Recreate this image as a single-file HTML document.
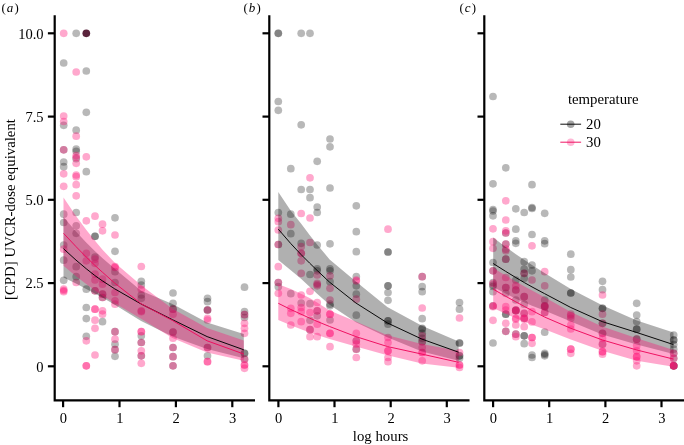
<!DOCTYPE html>
<html><head><meta charset="utf-8"><title>figure</title>
<style>
html,body{margin:0;padding:0;background:#fff;}
svg{display:block;}
text{font-family:"Liberation Serif",serif;fill:#000;}
.t{font-size:14.5px;}
.h{font-size:14.8px;}
.ax{stroke:#000;stroke-width:2.2;fill:none;stroke-linecap:butt;}
.g{fill:#000000;fill-opacity:0.28;}
.p{fill:#ff1478;fill-opacity:0.37;}
.z{fill:#5a233c;}
.rg{fill:#000;fill-opacity:0.31;}
</style></head><body>
<svg width="684" height="445" viewBox="0 0 684 445">
<rect width="684" height="445" fill="#fff"/>

<g id="panel-a">
<circle class="g" cx="63.7" cy="63.0" r="3.85"/>
<circle class="g" cx="63.7" cy="125.3" r="3.85"/>
<circle class="g" cx="63.7" cy="149.8" r="3.85"/>
<circle class="g" cx="63.7" cy="162.0" r="3.85"/>
<circle class="g" cx="63.7" cy="166.7" r="3.85"/>
<circle class="g" cx="63.7" cy="214.2" r="3.85"/>
<circle class="g" cx="63.7" cy="222.5" r="3.85"/>
<circle class="g" cx="63.7" cy="245.0" r="3.85"/>
<circle class="g" cx="63.7" cy="260.2" r="3.85"/>
<circle class="g" cx="63.7" cy="280.3" r="3.85"/>
<circle class="g" cx="76.2" cy="33.3" r="3.85"/>
<circle class="g" cx="76.2" cy="130.2" r="3.85"/>
<circle class="g" cx="76.2" cy="149.2" r="3.85"/>
<circle class="g" cx="76.2" cy="151.3" r="3.85"/>
<circle class="g" cx="76.2" cy="158.7" r="3.85"/>
<circle class="g" cx="76.2" cy="212.5" r="3.85"/>
<circle class="g" cx="76.2" cy="225.8" r="3.85"/>
<circle class="g" cx="76.2" cy="233.3" r="3.85"/>
<circle class="g" cx="76.2" cy="266.7" r="3.85"/>
<circle class="g" cx="76.2" cy="276.7" r="3.85"/>
<circle class="g" cx="86.3" cy="71.0" r="3.85"/>
<circle class="g" cx="86.3" cy="112.3" r="3.85"/>
<circle class="g" cx="86.3" cy="171.7" r="3.85"/>
<circle class="g" cx="86.3" cy="289.2" r="3.85"/>
<circle class="g" cx="86.3" cy="307.5" r="3.85"/>
<circle class="g" cx="86.3" cy="318.6" r="3.85"/>
<circle class="g" cx="86.3" cy="336.3" r="3.85"/>
<circle class="g" cx="95.0" cy="236.3" r="3.85"/>
<circle class="g" cx="95.0" cy="236.3" r="3.85"/>
<circle class="g" cx="95.0" cy="257.0" r="3.85"/>
<circle class="g" cx="95.0" cy="290.8" r="3.85"/>
<circle class="g" cx="102.5" cy="294.2" r="3.85"/>
<circle class="g" cx="102.5" cy="297.5" r="3.85"/>
<circle class="g" cx="102.5" cy="321.7" r="3.85"/>
<circle class="g" cx="115.0" cy="217.8" r="3.85"/>
<circle class="g" cx="115.0" cy="251.3" r="3.85"/>
<circle class="g" cx="115.0" cy="271.7" r="3.85"/>
<circle class="g" cx="115.0" cy="282.5" r="3.85"/>
<circle class="g" cx="115.0" cy="331.7" r="3.85"/>
<circle class="g" cx="115.0" cy="344.2" r="3.85"/>
<circle class="g" cx="115.0" cy="349.7" r="3.85"/>
<circle class="g" cx="115.0" cy="356.3" r="3.85"/>
<circle class="g" cx="141.3" cy="281.3" r="3.85"/>
<circle class="g" cx="141.3" cy="285.0" r="3.85"/>
<circle class="g" cx="141.3" cy="295.0" r="3.85"/>
<circle class="g" cx="141.3" cy="298.3" r="3.85"/>
<circle class="g" cx="141.3" cy="335.8" r="3.85"/>
<circle class="g" cx="141.3" cy="342.5" r="3.85"/>
<circle class="g" cx="141.3" cy="355.8" r="3.85"/>
<circle class="g" cx="173.0" cy="293.0" r="3.85"/>
<circle class="g" cx="173.0" cy="303.3" r="3.85"/>
<circle class="g" cx="173.0" cy="309.2" r="3.85"/>
<circle class="g" cx="173.0" cy="332.0" r="3.85"/>
<circle class="g" cx="173.0" cy="347.5" r="3.85"/>
<circle class="g" cx="173.0" cy="356.7" r="3.85"/>
<circle class="g" cx="173.0" cy="365.8" r="3.85"/>
<circle class="g" cx="207.5" cy="298.3" r="3.85"/>
<circle class="g" cx="207.5" cy="301.7" r="3.85"/>
<circle class="g" cx="207.5" cy="310.0" r="3.85"/>
<circle class="g" cx="207.5" cy="310.0" r="3.85"/>
<circle class="g" cx="207.5" cy="347.5" r="3.85"/>
<circle class="g" cx="207.5" cy="355.8" r="3.85"/>
<circle class="g" cx="244.5" cy="287.2" r="3.85"/>
<circle class="g" cx="244.5" cy="311.7" r="3.85"/>
<circle class="g" cx="244.5" cy="314.7" r="3.85"/>
<circle class="g" cx="244.5" cy="317.5" r="3.85"/>
<circle class="g" cx="244.5" cy="353.3" r="3.85"/>
<circle class="g" cx="244.5" cy="353.3" r="3.85"/>
<circle class="g" cx="244.5" cy="359.2" r="3.85"/>
<circle class="p" cx="63.7" cy="33.3" r="3.85"/>
<circle class="p" cx="63.7" cy="116.0" r="3.85"/>
<circle class="p" cx="63.7" cy="121.5" r="3.85"/>
<circle class="p" cx="63.7" cy="149.8" r="3.85"/>
<circle class="p" cx="63.7" cy="173.8" r="3.85"/>
<circle class="p" cx="63.7" cy="186.3" r="3.85"/>
<circle class="p" cx="63.7" cy="249.2" r="3.85"/>
<circle class="p" cx="63.7" cy="289.2" r="3.85"/>
<circle class="p" cx="63.7" cy="291.7" r="3.85"/>
<circle class="p" cx="63.7" cy="290.5" r="3.85"/>
<circle class="p" cx="76.2" cy="72.0" r="3.85"/>
<circle class="p" cx="76.2" cy="136.2" r="3.85"/>
<circle class="p" cx="76.2" cy="155.5" r="3.85"/>
<circle class="p" cx="76.2" cy="157.5" r="3.85"/>
<circle class="p" cx="76.2" cy="163.3" r="3.85"/>
<circle class="p" cx="76.2" cy="175.0" r="3.85"/>
<circle class="p" cx="76.2" cy="176.7" r="3.85"/>
<circle class="p" cx="76.2" cy="184.7" r="3.85"/>
<circle class="p" cx="76.2" cy="195.8" r="3.85"/>
<circle class="p" cx="76.2" cy="282.5" r="3.85"/>
<circle class="p" cx="86.3" cy="156.8" r="3.85"/>
<circle class="p" cx="86.3" cy="220.8" r="3.85"/>
<circle class="p" cx="86.3" cy="253.3" r="3.85"/>
<circle class="p" cx="86.3" cy="260.8" r="3.85"/>
<circle class="p" cx="86.3" cy="340.8" r="3.85"/>
<circle class="p" cx="86.3" cy="365.8" r="3.85"/>
<circle class="p" cx="86.3" cy="365.8" r="3.85"/>
<circle class="p" cx="95.0" cy="216.2" r="3.85"/>
<circle class="p" cx="95.0" cy="259.2" r="3.85"/>
<circle class="p" cx="95.0" cy="263.3" r="3.85"/>
<circle class="p" cx="95.0" cy="274.2" r="3.85"/>
<circle class="p" cx="95.0" cy="280.0" r="3.85"/>
<circle class="p" cx="95.0" cy="290.8" r="3.85"/>
<circle class="p" cx="95.0" cy="309.2" r="3.85"/>
<circle class="p" cx="95.0" cy="309.2" r="3.85"/>
<circle class="p" cx="95.0" cy="320.2" r="3.85"/>
<circle class="p" cx="95.0" cy="328.3" r="3.85"/>
<circle class="p" cx="95.0" cy="355.0" r="3.85"/>
<circle class="p" cx="102.5" cy="224.2" r="3.85"/>
<circle class="p" cx="102.5" cy="230.8" r="3.85"/>
<circle class="p" cx="102.5" cy="279.2" r="3.85"/>
<circle class="p" cx="102.5" cy="284.2" r="3.85"/>
<circle class="p" cx="102.5" cy="294.2" r="3.85"/>
<circle class="p" cx="102.5" cy="297.5" r="3.85"/>
<circle class="p" cx="102.5" cy="310.8" r="3.85"/>
<circle class="p" cx="102.5" cy="314.2" r="3.85"/>
<circle class="p" cx="115.0" cy="235.0" r="3.85"/>
<circle class="p" cx="115.0" cy="266.7" r="3.85"/>
<circle class="p" cx="115.0" cy="267.5" r="3.85"/>
<circle class="p" cx="115.0" cy="292.5" r="3.85"/>
<circle class="p" cx="115.0" cy="300.8" r="3.85"/>
<circle class="p" cx="115.0" cy="304.2" r="3.85"/>
<circle class="p" cx="115.0" cy="331.7" r="3.85"/>
<circle class="p" cx="115.0" cy="339.2" r="3.85"/>
<circle class="p" cx="115.0" cy="349.7" r="3.85"/>
<circle class="p" cx="141.3" cy="266.5" r="3.85"/>
<circle class="p" cx="141.3" cy="289.2" r="3.85"/>
<circle class="p" cx="141.3" cy="310.8" r="3.85"/>
<circle class="p" cx="141.3" cy="311.7" r="3.85"/>
<circle class="p" cx="141.3" cy="331.7" r="3.85"/>
<circle class="p" cx="141.3" cy="331.7" r="3.85"/>
<circle class="p" cx="141.3" cy="342.5" r="3.85"/>
<circle class="p" cx="141.3" cy="350.8" r="3.85"/>
<circle class="p" cx="141.3" cy="355.8" r="3.85"/>
<circle class="p" cx="141.3" cy="363.3" r="3.85"/>
<circle class="p" cx="173.0" cy="309.2" r="3.85"/>
<circle class="p" cx="173.0" cy="314.2" r="3.85"/>
<circle class="p" cx="173.0" cy="332.0" r="3.85"/>
<circle class="p" cx="173.0" cy="338.2" r="3.85"/>
<circle class="p" cx="173.0" cy="347.5" r="3.85"/>
<circle class="p" cx="173.0" cy="356.7" r="3.85"/>
<circle class="p" cx="173.0" cy="365.8" r="3.85"/>
<circle class="p" cx="207.5" cy="310.0" r="3.85"/>
<circle class="p" cx="207.5" cy="318.3" r="3.85"/>
<circle class="p" cx="207.5" cy="320.0" r="3.85"/>
<circle class="p" cx="207.5" cy="347.5" r="3.85"/>
<circle class="p" cx="207.5" cy="361.7" r="3.85"/>
<circle class="p" cx="207.5" cy="361.7" r="3.85"/>
<circle class="p" cx="244.5" cy="314.7" r="3.85"/>
<circle class="p" cx="244.5" cy="323.3" r="3.85"/>
<circle class="p" cx="244.5" cy="328.3" r="3.85"/>
<circle class="p" cx="244.5" cy="333.3" r="3.85"/>
<circle class="p" cx="244.5" cy="359.2" r="3.85"/>
<circle class="p" cx="244.5" cy="365.0" r="3.85"/>
<circle class="p" cx="244.5" cy="365.0" r="3.85"/>
<circle class="p" cx="244.5" cy="368.3" r="3.85"/>
<circle class="z" cx="86.3" cy="33.3" r="3.85"/>
<path class="rg" d="M63.5 217.0 L76.0 231.5 L86.2 242.5 L94.8 251.0 L102.3 257.9 L114.8 268.8 L141.1 290.7 L172.5 304.0 L207.1 322.4 L243.8 334.0 L243.8 358.2 L207.1 348.9 L172.5 336.5 L141.1 320.9 L114.8 304.7 L102.3 297.6 L94.8 293.5 L86.2 288.9 L76.0 283.6 L63.5 277.5Z"/>
<path class="p" d="M63.5 197.5 L76.0 215.9 L86.2 229.7 L94.8 240.6 L102.3 249.4 L114.8 262.8 L141.1 285.3 L172.5 308.7 L207.1 328.1 L243.8 340.6 L243.8 360.7 L207.1 352.4 L172.5 338.0 L141.1 318.7 L114.8 303.3 L102.3 295.5 L94.8 290.4 L86.2 284.1 L76.0 276.2 L63.5 265.8Z"/>
<path d="M63.5 248.7 L76.0 260.1 L86.2 268.7 L94.8 275.5 L102.3 280.8 L114.8 288.9 L141.1 304.0 L172.5 319.7 L207.1 336.6 L243.8 349.8" fill="none" stroke="#000" stroke-width="0.95"/>
<path d="M63.5 233.3 L76.0 246.6 L86.2 257.0 L94.8 265.3 L102.3 272.1 L114.8 283.2 L141.1 303.8 L172.5 320.5 L207.1 340.8 L243.8 354.0" fill="none" stroke="#ee0a5c" stroke-width="0.95"/>
<path class="ax" d="M54.7 15.2 V400.3 H255.0"/>
<path class="ax" d="M47.9 366.3 H54.7"/>
<path class="ax" d="M47.9 283.1 H54.7"/>
<path class="ax" d="M47.9 199.8 H54.7"/>
<path class="ax" d="M47.9 116.6 H54.7"/>
<path class="ax" d="M47.9 33.3 H54.7"/>
<path class="ax" d="M63.1 400 V407.2"/>
<text class="t" x="63.4" y="423.0" text-anchor="middle">0</text>
<path class="ax" d="M119.5 400 V407.2"/>
<text class="t" x="119.8" y="423.0" text-anchor="middle">1</text>
<path class="ax" d="M175.9 400 V407.2"/>
<text class="t" x="176.2" y="423.0" text-anchor="middle">2</text>
<path class="ax" d="M232.3 400 V407.2"/>
<text class="t" x="232.6" y="423.0" text-anchor="middle">3</text>
<text x="1.5" y="12.3" font-size="12.8"><tspan dy="-0.4">(</tspan><tspan font-style="italic" font-size="13.0" dx="1.1" dy="0.4">a</tspan><tspan dx="1.2" dy="-0.4">)</tspan></text>
</g>
<g id="panel-b">
<circle class="g" cx="278.3" cy="33.3" r="3.85"/>
<circle class="g" cx="278.3" cy="33.3" r="3.85"/>
<circle class="g" cx="278.3" cy="101.5" r="3.85"/>
<circle class="g" cx="278.3" cy="110.3" r="3.85"/>
<circle class="g" cx="278.3" cy="212.5" r="3.85"/>
<circle class="g" cx="278.3" cy="244.5" r="3.85"/>
<circle class="g" cx="278.3" cy="282.5" r="3.85"/>
<circle class="g" cx="278.3" cy="286.7" r="3.85"/>
<circle class="g" cx="290.8" cy="168.7" r="3.85"/>
<circle class="g" cx="290.8" cy="214.2" r="3.85"/>
<circle class="g" cx="290.8" cy="233.7" r="3.85"/>
<circle class="g" cx="290.8" cy="293.7" r="3.85"/>
<circle class="g" cx="301.2" cy="33.3" r="3.85"/>
<circle class="g" cx="301.2" cy="124.8" r="3.85"/>
<circle class="g" cx="301.2" cy="189.5" r="3.85"/>
<circle class="g" cx="301.2" cy="243.3" r="3.85"/>
<circle class="g" cx="301.2" cy="303.0" r="3.85"/>
<circle class="g" cx="310.0" cy="33.3" r="3.85"/>
<circle class="g" cx="310.0" cy="189.5" r="3.85"/>
<circle class="g" cx="310.0" cy="197.7" r="3.85"/>
<circle class="g" cx="310.0" cy="274.5" r="3.85"/>
<circle class="g" cx="310.0" cy="303.7" r="3.85"/>
<circle class="g" cx="310.0" cy="320.3" r="3.85"/>
<circle class="g" cx="310.0" cy="329.7" r="3.85"/>
<circle class="g" cx="317.2" cy="161.3" r="3.85"/>
<circle class="g" cx="317.2" cy="207.0" r="3.85"/>
<circle class="g" cx="317.2" cy="212.5" r="3.85"/>
<circle class="g" cx="317.2" cy="245.0" r="3.85"/>
<circle class="g" cx="317.2" cy="268.8" r="3.85"/>
<circle class="g" cx="317.2" cy="270.8" r="3.85"/>
<circle class="g" cx="317.2" cy="310.8" r="3.85"/>
<circle class="g" cx="317.2" cy="315.8" r="3.85"/>
<circle class="g" cx="330.0" cy="139.0" r="3.85"/>
<circle class="g" cx="330.0" cy="146.8" r="3.85"/>
<circle class="g" cx="330.0" cy="188.0" r="3.85"/>
<circle class="g" cx="330.0" cy="243.8" r="3.85"/>
<circle class="g" cx="330.0" cy="268.8" r="3.85"/>
<circle class="g" cx="330.0" cy="270.8" r="3.85"/>
<circle class="g" cx="330.0" cy="281.7" r="3.85"/>
<circle class="g" cx="330.0" cy="304.2" r="3.85"/>
<circle class="g" cx="330.0" cy="305.8" r="3.85"/>
<circle class="g" cx="330.0" cy="320.0" r="3.85"/>
<circle class="g" cx="356.3" cy="205.8" r="3.85"/>
<circle class="g" cx="356.3" cy="231.7" r="3.85"/>
<circle class="g" cx="356.3" cy="251.7" r="3.85"/>
<circle class="g" cx="356.3" cy="276.7" r="3.85"/>
<circle class="g" cx="356.3" cy="285.8" r="3.85"/>
<circle class="g" cx="356.3" cy="294.2" r="3.85"/>
<circle class="g" cx="356.3" cy="315.2" r="3.85"/>
<circle class="g" cx="356.3" cy="340.8" r="3.85"/>
<circle class="g" cx="356.3" cy="349.2" r="3.85"/>
<circle class="g" cx="388.0" cy="252.0" r="3.85"/>
<circle class="g" cx="388.0" cy="252.0" r="3.85"/>
<circle class="g" cx="388.0" cy="285.8" r="3.85"/>
<circle class="g" cx="388.0" cy="285.8" r="3.85"/>
<circle class="g" cx="388.0" cy="292.5" r="3.85"/>
<circle class="g" cx="388.0" cy="300.3" r="3.85"/>
<circle class="g" cx="388.0" cy="320.8" r="3.85"/>
<circle class="g" cx="388.0" cy="320.8" r="3.85"/>
<circle class="g" cx="388.0" cy="324.2" r="3.85"/>
<circle class="g" cx="422.2" cy="276.7" r="3.85"/>
<circle class="g" cx="422.2" cy="286.7" r="3.85"/>
<circle class="g" cx="422.2" cy="291.7" r="3.85"/>
<circle class="g" cx="422.2" cy="318.7" r="3.85"/>
<circle class="g" cx="422.2" cy="328.3" r="3.85"/>
<circle class="g" cx="422.2" cy="329.2" r="3.85"/>
<circle class="g" cx="422.2" cy="333.3" r="3.85"/>
<circle class="g" cx="422.2" cy="338.3" r="3.85"/>
<circle class="g" cx="422.2" cy="341.7" r="3.85"/>
<circle class="g" cx="459.5" cy="302.5" r="3.85"/>
<circle class="g" cx="459.5" cy="309.2" r="3.85"/>
<circle class="g" cx="459.5" cy="343.0" r="3.85"/>
<circle class="g" cx="459.5" cy="343.0" r="3.85"/>
<circle class="g" cx="459.5" cy="355.8" r="3.85"/>
<circle class="g" cx="459.5" cy="355.8" r="3.85"/>
<circle class="g" cx="459.5" cy="358.3" r="3.85"/>
<circle class="p" cx="278.3" cy="218.3" r="3.85"/>
<circle class="p" cx="278.3" cy="221.7" r="3.85"/>
<circle class="p" cx="278.3" cy="230.0" r="3.85"/>
<circle class="p" cx="278.3" cy="244.5" r="3.85"/>
<circle class="p" cx="278.3" cy="266.7" r="3.85"/>
<circle class="p" cx="278.3" cy="282.5" r="3.85"/>
<circle class="p" cx="278.3" cy="293.3" r="3.85"/>
<circle class="p" cx="290.8" cy="224.7" r="3.85"/>
<circle class="p" cx="290.8" cy="308.3" r="3.85"/>
<circle class="p" cx="290.8" cy="313.3" r="3.85"/>
<circle class="p" cx="290.8" cy="325.0" r="3.85"/>
<circle class="p" cx="301.2" cy="213.5" r="3.85"/>
<circle class="p" cx="301.2" cy="246.7" r="3.85"/>
<circle class="p" cx="301.2" cy="253.3" r="3.85"/>
<circle class="p" cx="301.2" cy="253.3" r="3.85"/>
<circle class="p" cx="301.2" cy="260.8" r="3.85"/>
<circle class="p" cx="301.2" cy="273.3" r="3.85"/>
<circle class="p" cx="301.2" cy="295.0" r="3.85"/>
<circle class="p" cx="301.2" cy="307.5" r="3.85"/>
<circle class="p" cx="301.2" cy="311.7" r="3.85"/>
<circle class="p" cx="301.2" cy="321.7" r="3.85"/>
<circle class="p" cx="310.0" cy="177.8" r="3.85"/>
<circle class="p" cx="310.0" cy="218.0" r="3.85"/>
<circle class="p" cx="310.0" cy="242.5" r="3.85"/>
<circle class="p" cx="310.0" cy="291.3" r="3.85"/>
<circle class="p" cx="310.0" cy="312.5" r="3.85"/>
<circle class="p" cx="310.0" cy="329.7" r="3.85"/>
<circle class="p" cx="310.0" cy="336.7" r="3.85"/>
<circle class="p" cx="317.2" cy="275.0" r="3.85"/>
<circle class="p" cx="317.2" cy="283.3" r="3.85"/>
<circle class="p" cx="317.2" cy="285.8" r="3.85"/>
<circle class="p" cx="317.2" cy="284.5" r="3.85"/>
<circle class="p" cx="317.2" cy="302.5" r="3.85"/>
<circle class="p" cx="317.2" cy="310.8" r="3.85"/>
<circle class="p" cx="317.2" cy="324.2" r="3.85"/>
<circle class="p" cx="317.2" cy="336.7" r="3.85"/>
<circle class="p" cx="330.0" cy="275.8" r="3.85"/>
<circle class="p" cx="330.0" cy="288.3" r="3.85"/>
<circle class="p" cx="330.0" cy="300.0" r="3.85"/>
<circle class="p" cx="330.0" cy="314.2" r="3.85"/>
<circle class="p" cx="330.0" cy="314.2" r="3.85"/>
<circle class="p" cx="330.0" cy="333.3" r="3.85"/>
<circle class="p" cx="330.0" cy="333.3" r="3.85"/>
<circle class="p" cx="330.0" cy="346.7" r="3.85"/>
<circle class="p" cx="356.3" cy="280.0" r="3.85"/>
<circle class="p" cx="356.3" cy="281.0" r="3.85"/>
<circle class="p" cx="356.3" cy="299.2" r="3.85"/>
<circle class="p" cx="356.3" cy="333.3" r="3.85"/>
<circle class="p" cx="356.3" cy="340.8" r="3.85"/>
<circle class="p" cx="356.3" cy="344.2" r="3.85"/>
<circle class="p" cx="356.3" cy="349.2" r="3.85"/>
<circle class="p" cx="356.3" cy="357.5" r="3.85"/>
<circle class="p" cx="388.0" cy="229.2" r="3.85"/>
<circle class="p" cx="388.0" cy="337.5" r="3.85"/>
<circle class="p" cx="388.0" cy="342.5" r="3.85"/>
<circle class="p" cx="388.0" cy="350.8" r="3.85"/>
<circle class="p" cx="388.0" cy="350.8" r="3.85"/>
<circle class="p" cx="388.0" cy="357.5" r="3.85"/>
<circle class="p" cx="388.0" cy="361.7" r="3.85"/>
<circle class="p" cx="422.2" cy="276.7" r="3.85"/>
<circle class="p" cx="422.2" cy="308.0" r="3.85"/>
<circle class="p" cx="422.2" cy="335.8" r="3.85"/>
<circle class="p" cx="422.2" cy="341.7" r="3.85"/>
<circle class="p" cx="422.2" cy="347.5" r="3.85"/>
<circle class="p" cx="422.2" cy="352.5" r="3.85"/>
<circle class="p" cx="422.2" cy="352.5" r="3.85"/>
<circle class="p" cx="422.2" cy="360.8" r="3.85"/>
<circle class="p" cx="459.5" cy="318.0" r="3.85"/>
<circle class="p" cx="459.5" cy="352.5" r="3.85"/>
<circle class="p" cx="459.5" cy="365.0" r="3.85"/>
<circle class="p" cx="459.5" cy="365.0" r="3.85"/>
<circle class="p" cx="459.5" cy="367.5" r="3.85"/>
<path class="rg" d="M278.3 192.0 L290.8 210.8 L301.0 223.6 L309.6 234.9 L317.1 244.5 L329.6 259.4 L355.9 281.4 L387.3 307.0 L421.9 325.7 L458.6 341.4 L458.6 360.7 L421.9 351.6 L387.3 337.2 L355.9 322.3 L329.6 304.7 L317.1 293.8 L309.6 286.7 L301.0 278.8 L290.8 270.2 L278.3 260.0Z"/>
<path class="p" d="M278.3 284.2 L290.8 289.0 L301.0 293.7 L309.6 298.1 L317.1 302.6 L329.6 310.6 L355.9 321.6 L387.3 335.3 L421.9 343.9 L458.6 350.7 L458.6 367.7 L421.9 363.5 L387.3 355.3 L355.9 346.6 L329.6 338.9 L317.1 334.9 L309.6 332.4 L301.0 329.2 L290.8 325.2 L278.3 320.0Z"/>
<path d="M278.3 229.2 L290.8 243.6 L301.0 254.5 L309.6 263.1 L317.1 270.4 L329.6 282.2 L355.9 303.0 L387.3 322.9 L421.9 339.1 L458.6 352.2" fill="none" stroke="#000" stroke-width="0.95"/>
<path d="M278.3 303.3 L290.8 309.5 L301.0 314.2 L309.6 318.1 L317.1 321.4 L329.6 326.5 L355.9 336.6 L387.3 346.5 L421.9 354.1 L458.6 362.3" fill="none" stroke="#ee0a5c" stroke-width="0.95"/>
<path class="ax" d="M269.3 15.2 V400.3 H469.5"/>
<path class="ax" d="M262.5 366.3 H269.3"/>
<path class="ax" d="M262.5 283.1 H269.3"/>
<path class="ax" d="M262.5 199.8 H269.3"/>
<path class="ax" d="M262.5 116.6 H269.3"/>
<path class="ax" d="M262.5 33.3 H269.3"/>
<path class="ax" d="M278.4 400 V407.2"/>
<text class="t" x="278.7" y="423.0" text-anchor="middle">0</text>
<path class="ax" d="M334.5 400 V407.2"/>
<text class="t" x="334.8" y="423.0" text-anchor="middle">1</text>
<path class="ax" d="M390.7 400 V407.2"/>
<text class="t" x="391.0" y="423.0" text-anchor="middle">2</text>
<path class="ax" d="M446.8 400 V407.2"/>
<text class="t" x="447.1" y="423.0" text-anchor="middle">3</text>
<text x="243.4" y="12.3" font-size="12.8"><tspan dy="-0.4">(</tspan><tspan font-style="italic" font-size="13.0" dx="1.1" dy="0.4">b</tspan><tspan dx="1.2" dy="-0.4">)</tspan></text>
</g>
<g id="panel-c">
<circle class="g" cx="493.0" cy="96.5" r="3.85"/>
<circle class="g" cx="493.0" cy="183.8" r="3.85"/>
<circle class="g" cx="493.0" cy="209.5" r="3.85"/>
<circle class="g" cx="493.0" cy="211.0" r="3.85"/>
<circle class="g" cx="493.0" cy="215.8" r="3.85"/>
<circle class="g" cx="493.0" cy="262.5" r="3.85"/>
<circle class="g" cx="493.0" cy="270.8" r="3.85"/>
<circle class="g" cx="493.0" cy="282.5" r="3.85"/>
<circle class="g" cx="493.0" cy="285.0" r="3.85"/>
<circle class="g" cx="493.0" cy="286.5" r="3.85"/>
<circle class="g" cx="493.0" cy="291.7" r="3.85"/>
<circle class="g" cx="493.0" cy="305.8" r="3.85"/>
<circle class="g" cx="493.0" cy="343.0" r="3.85"/>
<circle class="g" cx="505.8" cy="167.8" r="3.85"/>
<circle class="g" cx="505.8" cy="233.0" r="3.85"/>
<circle class="g" cx="505.8" cy="244.2" r="3.85"/>
<circle class="g" cx="505.8" cy="259.2" r="3.85"/>
<circle class="g" cx="505.8" cy="287.5" r="3.85"/>
<circle class="g" cx="505.8" cy="293.3" r="3.85"/>
<circle class="g" cx="505.8" cy="314.2" r="3.85"/>
<circle class="g" cx="505.8" cy="314.2" r="3.85"/>
<circle class="g" cx="505.8" cy="331.3" r="3.85"/>
<circle class="g" cx="515.8" cy="208.8" r="3.85"/>
<circle class="g" cx="515.8" cy="229.2" r="3.85"/>
<circle class="g" cx="515.8" cy="240.8" r="3.85"/>
<circle class="g" cx="515.8" cy="243.3" r="3.85"/>
<circle class="g" cx="515.8" cy="280.0" r="3.85"/>
<circle class="g" cx="515.8" cy="290.0" r="3.85"/>
<circle class="g" cx="515.8" cy="300.0" r="3.85"/>
<circle class="g" cx="515.8" cy="310.0" r="3.85"/>
<circle class="g" cx="515.8" cy="310.8" r="3.85"/>
<circle class="g" cx="515.8" cy="310.4" r="3.85"/>
<circle class="g" cx="515.8" cy="334.2" r="3.85"/>
<circle class="g" cx="524.2" cy="212.5" r="3.85"/>
<circle class="g" cx="524.2" cy="261.7" r="3.85"/>
<circle class="g" cx="524.2" cy="269.2" r="3.85"/>
<circle class="g" cx="524.2" cy="273.3" r="3.85"/>
<circle class="g" cx="524.2" cy="278.3" r="3.85"/>
<circle class="g" cx="524.2" cy="296.7" r="3.85"/>
<circle class="g" cx="524.2" cy="304.2" r="3.85"/>
<circle class="g" cx="524.2" cy="313.3" r="3.85"/>
<circle class="g" cx="524.2" cy="318.3" r="3.85"/>
<circle class="g" cx="524.2" cy="335.8" r="3.85"/>
<circle class="g" cx="524.2" cy="335.8" r="3.85"/>
<circle class="g" cx="524.2" cy="343.7" r="3.85"/>
<circle class="g" cx="532.0" cy="207.5" r="3.85"/>
<circle class="g" cx="532.0" cy="208.5" r="3.85"/>
<circle class="g" cx="532.0" cy="184.7" r="3.85"/>
<circle class="g" cx="532.0" cy="234.5" r="3.85"/>
<circle class="g" cx="532.0" cy="265.0" r="3.85"/>
<circle class="g" cx="532.0" cy="270.8" r="3.85"/>
<circle class="g" cx="532.0" cy="355.0" r="3.85"/>
<circle class="g" cx="532.0" cy="357.5" r="3.85"/>
<circle class="g" cx="544.7" cy="213.3" r="3.85"/>
<circle class="g" cx="544.7" cy="240.8" r="3.85"/>
<circle class="g" cx="544.7" cy="243.7" r="3.85"/>
<circle class="g" cx="544.7" cy="300.0" r="3.85"/>
<circle class="g" cx="544.7" cy="305.8" r="3.85"/>
<circle class="g" cx="544.7" cy="306.7" r="3.85"/>
<circle class="g" cx="544.7" cy="312.5" r="3.85"/>
<circle class="g" cx="544.7" cy="332.2" r="3.85"/>
<circle class="g" cx="544.7" cy="353.3" r="3.85"/>
<circle class="g" cx="544.7" cy="354.5" r="3.85"/>
<circle class="g" cx="544.7" cy="355.8" r="3.85"/>
<circle class="g" cx="570.8" cy="254.2" r="3.85"/>
<circle class="g" cx="570.8" cy="269.7" r="3.85"/>
<circle class="g" cx="570.8" cy="277.0" r="3.85"/>
<circle class="g" cx="570.8" cy="293.0" r="3.85"/>
<circle class="g" cx="570.8" cy="293.0" r="3.85"/>
<circle class="g" cx="602.5" cy="281.3" r="3.85"/>
<circle class="g" cx="602.5" cy="289.7" r="3.85"/>
<circle class="g" cx="602.5" cy="308.3" r="3.85"/>
<circle class="g" cx="602.5" cy="308.3" r="3.85"/>
<circle class="g" cx="602.5" cy="323.3" r="3.85"/>
<circle class="g" cx="602.5" cy="333.3" r="3.85"/>
<circle class="g" cx="602.5" cy="344.2" r="3.85"/>
<circle class="g" cx="636.7" cy="303.3" r="3.85"/>
<circle class="g" cx="636.7" cy="315.0" r="3.85"/>
<circle class="g" cx="636.7" cy="321.5" r="3.85"/>
<circle class="g" cx="636.7" cy="329.2" r="3.85"/>
<circle class="g" cx="636.7" cy="329.2" r="3.85"/>
<circle class="g" cx="636.7" cy="339.2" r="3.85"/>
<circle class="g" cx="673.7" cy="335.0" r="3.85"/>
<circle class="g" cx="673.7" cy="340.0" r="3.85"/>
<circle class="g" cx="673.7" cy="340.0" r="3.85"/>
<circle class="g" cx="673.7" cy="344.5" r="3.85"/>
<circle class="g" cx="673.7" cy="349.2" r="3.85"/>
<circle class="g" cx="673.7" cy="353.3" r="3.85"/>
<circle class="g" cx="673.7" cy="358.3" r="3.85"/>
<circle class="g" cx="673.7" cy="365.8" r="3.85"/>
<circle class="g" cx="673.7" cy="365.8" r="3.85"/>
<circle class="g" cx="673.7" cy="365.8" r="3.85"/>
<circle class="p" cx="493.0" cy="228.8" r="3.85"/>
<circle class="p" cx="493.0" cy="241.7" r="3.85"/>
<circle class="p" cx="493.0" cy="248.3" r="3.85"/>
<circle class="p" cx="493.0" cy="270.8" r="3.85"/>
<circle class="p" cx="493.0" cy="283.5" r="3.85"/>
<circle class="p" cx="493.0" cy="305.8" r="3.85"/>
<circle class="p" cx="493.0" cy="306.7" r="3.85"/>
<circle class="p" cx="493.0" cy="320.3" r="3.85"/>
<circle class="p" cx="505.8" cy="200.8" r="3.85"/>
<circle class="p" cx="505.8" cy="220.0" r="3.85"/>
<circle class="p" cx="505.8" cy="230.8" r="3.85"/>
<circle class="p" cx="505.8" cy="233.0" r="3.85"/>
<circle class="p" cx="505.8" cy="244.2" r="3.85"/>
<circle class="p" cx="505.8" cy="249.2" r="3.85"/>
<circle class="p" cx="505.8" cy="250.8" r="3.85"/>
<circle class="p" cx="505.8" cy="259.2" r="3.85"/>
<circle class="p" cx="505.8" cy="277.5" r="3.85"/>
<circle class="p" cx="505.8" cy="287.5" r="3.85"/>
<circle class="p" cx="505.8" cy="306.7" r="3.85"/>
<circle class="p" cx="505.8" cy="310.0" r="3.85"/>
<circle class="p" cx="505.8" cy="323.3" r="3.85"/>
<circle class="p" cx="505.8" cy="331.3" r="3.85"/>
<circle class="p" cx="515.8" cy="285.8" r="3.85"/>
<circle class="p" cx="515.8" cy="290.0" r="3.85"/>
<circle class="p" cx="515.8" cy="310.0" r="3.85"/>
<circle class="p" cx="515.8" cy="310.8" r="3.85"/>
<circle class="p" cx="515.8" cy="318.3" r="3.85"/>
<circle class="p" cx="515.8" cy="319.2" r="3.85"/>
<circle class="p" cx="515.8" cy="325.0" r="3.85"/>
<circle class="p" cx="515.8" cy="334.2" r="3.85"/>
<circle class="p" cx="515.8" cy="336.7" r="3.85"/>
<circle class="p" cx="524.2" cy="273.3" r="3.85"/>
<circle class="p" cx="524.2" cy="296.7" r="3.85"/>
<circle class="p" cx="524.2" cy="313.3" r="3.85"/>
<circle class="p" cx="524.2" cy="318.3" r="3.85"/>
<circle class="p" cx="524.2" cy="319.2" r="3.85"/>
<circle class="p" cx="524.2" cy="326.7" r="3.85"/>
<circle class="p" cx="532.0" cy="245.8" r="3.85"/>
<circle class="p" cx="532.0" cy="280.0" r="3.85"/>
<circle class="p" cx="532.0" cy="311.7" r="3.85"/>
<circle class="p" cx="532.0" cy="321.9" r="3.85"/>
<circle class="p" cx="532.0" cy="337.5" r="3.85"/>
<circle class="p" cx="532.0" cy="337.5" r="3.85"/>
<circle class="p" cx="532.0" cy="343.3" r="3.85"/>
<circle class="p" cx="544.7" cy="271.7" r="3.85"/>
<circle class="p" cx="544.7" cy="285.8" r="3.85"/>
<circle class="p" cx="544.7" cy="305.8" r="3.85"/>
<circle class="p" cx="544.7" cy="306.7" r="3.85"/>
<circle class="p" cx="544.7" cy="312.5" r="3.85"/>
<circle class="p" cx="570.8" cy="314.2" r="3.85"/>
<circle class="p" cx="570.8" cy="315.8" r="3.85"/>
<circle class="p" cx="570.8" cy="318.3" r="3.85"/>
<circle class="p" cx="570.8" cy="325.0" r="3.85"/>
<circle class="p" cx="570.8" cy="329.0" r="3.85"/>
<circle class="p" cx="570.8" cy="349.2" r="3.85"/>
<circle class="p" cx="570.8" cy="349.2" r="3.85"/>
<circle class="p" cx="570.8" cy="353.3" r="3.85"/>
<circle class="p" cx="602.5" cy="295.0" r="3.85"/>
<circle class="p" cx="602.5" cy="314.2" r="3.85"/>
<circle class="p" cx="602.5" cy="323.3" r="3.85"/>
<circle class="p" cx="602.5" cy="333.3" r="3.85"/>
<circle class="p" cx="602.5" cy="338.3" r="3.85"/>
<circle class="p" cx="602.5" cy="344.2" r="3.85"/>
<circle class="p" cx="602.5" cy="351.7" r="3.85"/>
<circle class="p" cx="602.5" cy="351.7" r="3.85"/>
<circle class="p" cx="602.5" cy="354.2" r="3.85"/>
<circle class="p" cx="636.7" cy="339.2" r="3.85"/>
<circle class="p" cx="636.7" cy="345.8" r="3.85"/>
<circle class="p" cx="636.7" cy="350.8" r="3.85"/>
<circle class="p" cx="636.7" cy="356.7" r="3.85"/>
<circle class="p" cx="636.7" cy="356.7" r="3.85"/>
<circle class="p" cx="636.7" cy="360.8" r="3.85"/>
<circle class="p" cx="636.7" cy="365.8" r="3.85"/>
<circle class="p" cx="673.7" cy="353.3" r="3.85"/>
<circle class="p" cx="673.7" cy="358.3" r="3.85"/>
<circle class="p" cx="673.7" cy="365.8" r="3.85"/>
<circle class="p" cx="673.7" cy="365.8" r="3.85"/>
<circle class="p" cx="673.7" cy="365.8" r="3.85"/>
<path class="rg" d="M493.2 237.5 L505.7 246.9 L515.9 254.2 L524.5 260.1 L532.0 265.0 L544.5 272.9 L570.8 289.0 L602.2 305.3 L636.8 320.5 L673.5 332.4 L673.5 354.1 L636.8 344.5 L602.2 334.4 L570.8 321.5 L544.5 310.5 L532.0 305.8 L524.5 302.6 L515.9 298.7 L505.7 293.6 L493.2 287.0Z"/>
<path class="p" d="M493.2 268.0 L505.7 275.5 L515.9 281.5 L524.5 286.4 L532.0 290.6 L544.5 297.3 L570.8 312.0 L602.2 326.4 L636.8 338.3 L673.5 349.9 L673.5 366.7 L636.8 360.8 L602.2 350.7 L570.8 339.5 L544.5 329.2 L532.0 324.8 L524.5 321.8 L515.9 318.3 L505.7 313.8 L493.2 308.0Z"/>
<path d="M493.2 263.5 L505.7 271.4 L515.9 277.6 L524.5 282.7 L532.0 286.9 L544.5 293.6 L570.8 307.5 L602.2 321.6 L636.8 332.5 L673.5 344.6" fill="none" stroke="#000" stroke-width="0.95"/>
<path d="M493.2 289.2 L505.7 296.3 L515.9 301.9 L524.5 306.5 L532.0 310.5 L544.5 317.0 L570.8 328.3 L602.2 339.9 L636.8 350.0 L673.5 359.1" fill="none" stroke="#ee0a5c" stroke-width="0.95"/>
<path class="ax" d="M484.3 15.2 V400.3 H684.0"/>
<path class="ax" d="M477.5 366.3 H484.3"/>
<path class="ax" d="M477.5 283.1 H484.3"/>
<path class="ax" d="M477.5 199.8 H484.3"/>
<path class="ax" d="M477.5 116.6 H484.3"/>
<path class="ax" d="M477.5 33.3 H484.3"/>
<path class="ax" d="M493.1 400 V407.2"/>
<text class="t" x="493.4" y="423.0" text-anchor="middle">0</text>
<path class="ax" d="M549.2 400 V407.2"/>
<text class="t" x="549.5" y="423.0" text-anchor="middle">1</text>
<path class="ax" d="M605.4 400 V407.2"/>
<text class="t" x="605.7" y="423.0" text-anchor="middle">2</text>
<path class="ax" d="M661.5 400 V407.2"/>
<text class="t" x="661.8" y="423.0" text-anchor="middle">3</text>
<text x="459.4" y="12.3" font-size="12.8"><tspan dy="-0.4">(</tspan><tspan font-style="italic" font-size="13.0" dx="1.1" dy="0.4">c</tspan><tspan dx="1.2" dy="-0.4">)</tspan></text>
</g>
<text class="t" x="43.6" y="371.7" text-anchor="end">0</text>
<text class="t" x="43.6" y="288.4" text-anchor="end">2.5</text>
<text class="t" x="43.6" y="205.2" text-anchor="end">5.0</text>
<text class="t" x="43.6" y="122.0" text-anchor="end">7.5</text>
<text class="t" x="43.6" y="38.7" text-anchor="end">10.0</text>
<text class="h" transform="translate(15.4 209.5) rotate(-90)" text-anchor="middle">[CPD] UVCR-dose equivalent</text>
<text class="h" x="380.6" y="440.9" text-anchor="middle">log hours</text>
<g id="legend">
<text class="h" x="567.9" y="103.8">temperature</text>
<circle cx="570.7" cy="124.2" r="3.8" fill="#000" fill-opacity="0.36"/>
<path d="M560.3 124.2 H581.1" stroke="#000" stroke-width="0.95"/>
<circle cx="570.7" cy="142.2" r="3.8" fill="#ff1478" fill-opacity="0.3"/>
<path d="M560.3 142.2 H581.1" stroke="#ee0a5c" stroke-width="0.95"/>
<text class="h" x="586" y="128.6">20</text>
<text class="h" x="586" y="146.5">30</text>
</g>
</svg></body></html>
